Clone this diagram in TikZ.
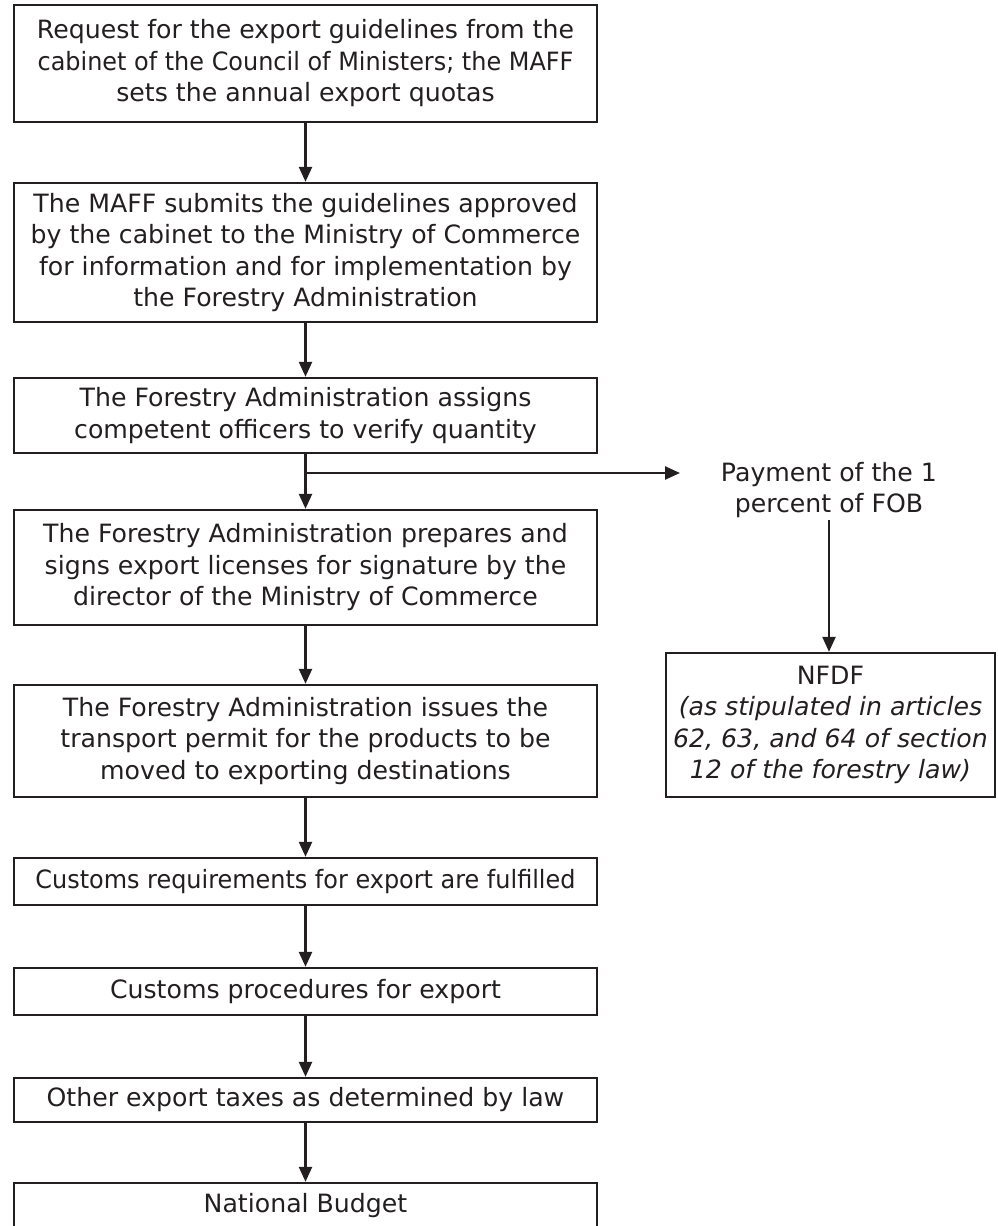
\documentclass[tikz,border=0pt]{standalone}
\usepackage{fontspec}
\setmainfont{DejaVu Sans}
\usetikzlibrary{arrows.meta}
\definecolor{ink}{RGB}{35,31,32}
% slightly condensed setting for the widest lines
\newcommand\narrowline[1]{\scalebox{0.95}[1]{#1}}
\begin{document}
\begin{tikzpicture}[x=1pt,y=-1pt,
  every node/.style={font=\fontsize{25.2}{31.5}\selectfont, text=ink},
  stage/.style={draw=ink, line width=2.4pt, minimum width=583pt, inner sep=0pt, align=center},
  sidebox/.style={draw=ink, line width=2.4pt, minimum width=329pt, inner sep=0pt, align=center},
  flow/.style={draw=ink, line width=2.4pt, -{Triangle[length=15pt,width=13pt]}},
]
\useasboundingbox (0,0) rectangle (997,1226);

% main column of stages
\node[stage, minimum height=117pt] (b1) at (305.5,63.5)
  {Request for the export guidelines from the\\\narrowline{cabinet of the Council of Ministers; the MAFF}\\sets the annual export quotas};
\node[stage, minimum height=139pt] (b2) at (305.5,252.5)
  {The MAFF submits the guidelines approved\\by the cabinet to the Ministry of Commerce\\for information and for implementation by\\the Forestry Administration};
\node[stage, minimum height=75pt] (b3) at (305.5,415.5)
  {The Forestry Administration assigns\\competent officers to verify quantity};
\node[stage, minimum height=115pt] (b4) at (305.5,567.5)
  {The Forestry Administration prepares and\\signs export licenses for signature by the\\director of the Ministry of Commerce};
\node[stage, minimum height=112pt] (b5) at (305.5,741)
  {The Forestry Administration issues the\\transport permit for the products to be\\moved to exporting destinations};
\node[stage, minimum height=47pt] (b6) at (305.5,881.5)
  {\narrowline{Customs requirements for export are fulfilled}};
\node[stage, minimum height=47pt] (b7) at (305.5,991.5)
  {Customs procedures for export};
\node[stage, minimum height=44pt] (b8) at (305.5,1100)
  {Other export taxes as determined by law};
\node[stage, minimum height=46pt] (b9) at (305.5,1206)
  {National Budget};

% side branch
\node[inner sep=2pt, align=center] (pay) at (829,490)
  {Payment of the 1\\percent of FOB};
\node[sidebox, minimum height=144pt] (nfdf) at (830.5,725)
  {NFDF\\\textit{(as stipulated in articles}\\\textit{62, 63, and 64 of section}\\\textit{12 of the forestry law)}};

\coordinate (split) at (305.5,473);
\coordinate (paytip) at (680,473);

% connectors
\draw[flow] (b1) -- (b2);
\draw[flow] (b2) -- (b3);
\draw[flow] (b3) -- (b4);
\draw[flow] (b4) -- (b5);
\draw[flow] (b5) -- (b6);
\draw[flow] (b6) -- (b7);
\draw[flow] (b7) -- (b8);
\draw[flow] (b8) -- (b9);
\draw[flow] (split) -- (paytip);
\draw[flow] (pay.south) -- (pay.south |- nfdf.north);
\end{tikzpicture}
\end{document}
